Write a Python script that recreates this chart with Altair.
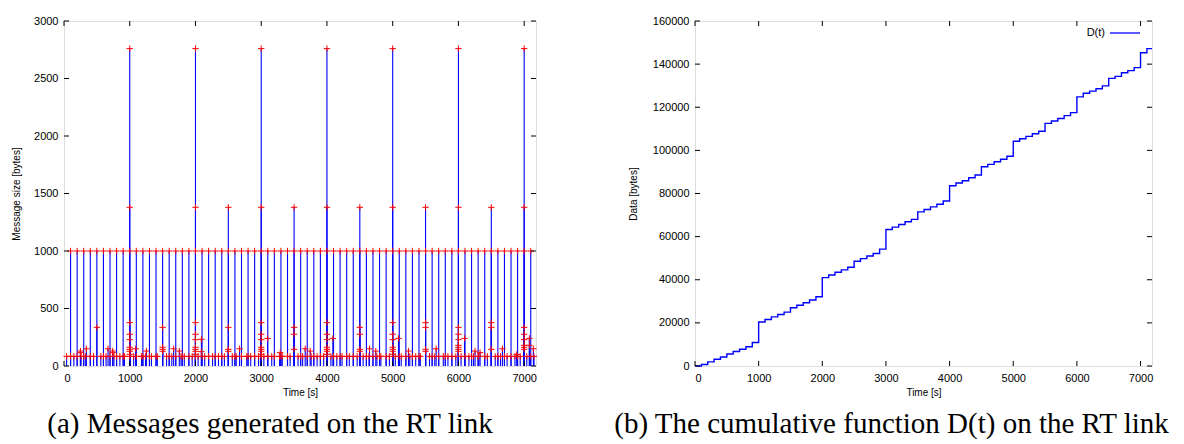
import altair as alt
import pandas as pd

# ---------------- data: panel (a) messages ----------------
periodic_t = [100, 200, 300, 400, 500, 600, 700, 800, 900, 1000,
              1100, 1200, 1300, 1400, 1500, 1600, 1700, 1800, 1900, 2000,
              2100, 2200, 2300, 2400, 2500, 2600, 2700, 2800, 2900, 3000,
              3100, 3200, 3300, 3400, 3500, 3600, 3700, 3800, 3900, 4000,
              4100, 4200, 4300, 4400, 4500, 4600, 4700, 4800, 4900, 5000,
              5100, 5200, 5300, 5400, 5500, 5600, 5700, 5800, 5900, 6000,
              6100, 6200, 6300, 6400, 6500, 6600, 6700, 6800, 6900, 7000, 7100]
periodic_v = [1000, 1000, 1000, 1000, 1000, 1000, 1000, 1000, 1000, 1000,
              1000, 1000, 1000, 1000, 1000, 1000, 1000, 1000, 1000, 1000,
              1000, 1000, 1000, 1000, 1000, 1000, 1000, 1000, 1000, 1000,
              1000, 1000, 1000, 1000, 1000, 1000, 1000, 1000, 1000, 1000,
              1000, 1000, 1000, 1000, 1000, 1000, 1000, 1000, 1000, 1000,
              1000, 1000, 1000, 1000, 1000, 1000, 1000, 1000, 1000, 1000,
              1000, 1000, 1000, 1000, 1000, 1000, 1000, 1000, 1000, 1000, 1000]

peak_t = [1000, 2000, 3000, 4000, 5000, 6000, 7000]
peak_v = [2760, 2760, 2760, 2760, 2760, 2760, 2760]

half_t = [1000, 2000, 2500, 3000, 3500, 4000, 4500, 5000, 5500, 6000, 6500, 7000]
half_v = [1380, 1380, 1380, 1380, 1380, 1380, 1380, 1380, 1380, 1380, 1380, 1380]

cluster_t = [500,
             1000, 1000, 1000, 1000, 1000, 1000, 1000, 1000,
             1500, 1500, 1500, 1500,
             2000, 2000, 2000, 2000, 2000, 2000, 2000, 2000,
             2500, 2500, 2500,
             3000, 3000, 3000, 3000, 3000, 3000, 3000, 3000,
             3500, 3500, 3500,
             4000, 4000, 4000, 4000, 4000, 4000, 4000,
             4500, 4500, 4500, 4500,
             5000, 5000, 5000, 5000, 5000, 5000, 5000,
             5500, 5500, 5500, 5500,
             6000, 6000, 6000, 6000, 6000, 6000, 6000,
             6500, 6500, 6500,
             7000, 7000, 7000, 7000, 7000, 7000]
cluster_v = [336,
             377, 276, 229, 163, 145, 128, 102, 84,
             336, 163, 145, 128,
             377, 276, 229, 163, 145, 128, 102, 84,
             336, 145, 128,
             377, 276, 229, 163, 145, 128, 102, 84,
             336, 276, 145,
             377, 276, 229, 163, 145, 128, 102,
             336, 276, 145, 128,
             377, 276, 229, 163, 145, 128, 102,
             377, 336, 145, 128,
             336, 276, 229, 180, 163, 145, 128,
             377, 336, 145,
             336, 276, 229, 180, 163, 145]

small_t = [40, 100, 150, 200, 250, 250, 260, 300, 330, 340, 400, 450, 560, 600, 640, 670, 700,
           741, 741, 760, 800, 850, 900, 920, 1060, 1090, 1100, 1180, 1200, 1240, 1253, 1300,
           1330, 1400, 1420, 1560, 1600, 1640, 1668, 1700, 1754, 1780, 1800, 1830, 1900, 1950,
           2040, 2090, 2090, 2100, 2140, 2200, 2260, 2300, 2350, 2400, 2440, 2560, 2600, 2620,
           2671, 2700, 2780, 2800, 2840, 2900, 2960, 3040, 3097, 3100, 3160, 3200, 3280, 3289,
           3300, 3320, 3400, 3440, 3560, 3600, 3630, 3669, 3700, 3745, 3760, 3800, 3850, 3900,
           3950, 4060, 4090, 4100, 4150, 4200, 4230, 4300, 4340, 4400, 4460, 4550, 4600, 4640,
           4647, 4700, 4743, 4760, 4800, 4820, 4900, 4950, 5040, 5088, 5100, 5130, 5200, 5240,
           5260, 5300, 5350, 5400, 5420, 5560, 5600, 5640, 5661, 5700, 5770, 5800, 5840, 5900,
           5960, 6040, 6093, 6100, 6160, 6200, 6230, 6253, 6300, 6310, 6329, 6400, 6440, 6560,
           6600, 6640, 6669, 6700, 6740, 6800, 6860, 6886, 6900, 6940, 7040, 7079, 7079, 7100,
           7140, 7150]
small_v = [84, 84, 84, 84, 116, 130, 84, 84, 84, 150, 84, 84, 84, 84, 84, 150, 84,
           130, 116, 84, 84, 84, 84, 84, 84, 150, 84, 84, 84, 84, 130, 84,
           84, 84, 84, 84, 84, 84, 150, 84, 130, 84, 84, 84, 84, 84,
           84, 232, 125, 84, 84, 84, 84, 84, 84, 84, 84, 84, 84, 84,
           150, 84, 84, 84, 84, 84, 84, 84, 240, 84, 84, 84, 84, 116,
           84, 84, 84, 84, 84, 84, 84, 150, 84, 130, 84, 84, 84, 84,
           84, 84, 240, 84, 84, 84, 84, 84, 84, 84, 84, 84, 84, 84,
           150, 84, 130, 84, 84, 84, 84, 84, 84, 240, 84, 84, 84, 130,
           84, 84, 84, 84, 84, 84, 84, 84, 150, 84, 84, 84, 84, 84,
           84, 84, 240, 84, 84, 84, 84, 130, 84, 84, 116, 84, 84, 84,
           84, 84, 150, 84, 84, 84, 84, 100, 84, 84, 84, 240, 180, 84,
           150, 84]

# ---------------- data: panel (b) cumulative D(t) ----------------
d_t = [0, 100, 200, 300, 400, 500, 600, 700, 800, 900, 1000,
       1100, 1200, 1300, 1400, 1500, 1600, 1700, 1800, 1900, 2000,
       2100, 2200, 2300, 2400, 2500, 2600, 2700, 2800, 2900, 3000,
       3100, 3200, 3300, 3400, 3500, 3600, 3700, 3800, 3900, 4000,
       4100, 4200, 4300, 4400, 4500, 4600, 4700, 4800, 4900, 5000,
       5100, 5200, 5300, 5400, 5500, 5600, 5700, 5800, 5900, 6000,
       6100, 6200, 6300, 6400, 6500, 6600, 6700, 6800, 6900, 7000, 7100, 7180]
d_v = [0, 700, 1900, 3100, 4200, 5600, 6700, 7800, 8900, 10900, 20400,
       21600, 22800, 23900, 25000, 27000, 28200, 29300, 30600, 32100, 41000,
       42200, 43500, 44600, 45800, 48600, 49800, 51000, 52200, 54200, 63300,
       64400, 65600, 66900, 68000, 71500, 72600, 73800, 75000, 76500, 83600,
       84900, 85900, 87300, 88600, 92400, 93500, 94700, 95900, 97300, 104200,
       105400, 106500, 107700, 108900, 112500, 113600, 114800, 116100, 117500, 124800,
       126500, 127500, 128600, 129900, 133400, 134300, 136000, 137000, 138400, 145300, 147200, 147200]

x_ticks = [0, 1000, 2000, 3000, 4000, 5000, 6000, 7000]
y1_ticks = [0, 500, 1000, 1500, 2000, 2500, 3000]
y2_ticks = [0, 20000, 40000, 60000, 80000, 100000, 120000, 140000, 160000]

caption_a = "(a) Messages generated on the RT link"
caption_b = "(b) The cumulative function D(t) on the RT link"
legend_label = "D(t)"

# ---------------- build ----------------
W1, W2, H = 472, 457, 345
XMAX = 7180
BLUE = "#0000ff"
RED = "#ff0000"
SANS = "Liberation Sans"
SERIF = "Liberation Serif"
TL = 5

msgs = pd.DataFrame({
    "t": periodic_t + peak_t + half_t + cluster_t + small_t,
    "v": periodic_v + peak_v + half_v + cluster_v + small_v,
})
dfD = pd.DataFrame({"t": d_t, "v": d_v})
xt = pd.DataFrame({"t": x_ticks})
y1t = pd.DataFrame({"v": y1_ticks})
y2t = pd.DataFrame({"v": y2_ticks})

xscale = alt.Scale(domain=[0, XMAX], nice=False, zero=False)
y1scale = alt.Scale(domain=[0, 3000], nice=False)
y2scale = alt.Scale(domain=[0, 160000], nice=False)


def xaxis():
    return alt.Axis(values=x_ticks, ticks=False, grid=False, domain=False, format="d",
                    labelFont=SANS, labelFontSize=11, labelColor="black",
                    labelPadding=6, title="Time [s]", titleFont=SANS,
                    titleFontSize=10, titleFontWeight="normal", titleColor="black",
                    titlePadding=4)


def yaxis(vals, title, tpad):
    return alt.Axis(values=vals, ticks=False, grid=False, domain=False, format="d",
                    labelFont=SANS, labelFontSize=11, labelColor="black",
                    labelPadding=6, title=title, titleFont=SANS, titleFontSize=10,
                    titleFontWeight="normal", titleColor="black", titlePadding=tpad)


def inner_ticks(yscale, yticks_df, W):
    tb = alt.Chart(xt).mark_rule(color="black", strokeWidth=1).encode(
        x=alt.X("t:Q", scale=xscale), y=alt.value(H), y2=alt.value(H - TL))
    tt = alt.Chart(xt).mark_rule(color="black", strokeWidth=1).encode(
        x=alt.X("t:Q", scale=xscale), y=alt.value(0), y2=alt.value(TL))
    tl = alt.Chart(yticks_df).mark_rule(color="black", strokeWidth=1).encode(
        y=alt.Y("v:Q", scale=yscale), x=alt.value(0), x2=alt.value(TL))
    tr = alt.Chart(yticks_df).mark_rule(color="black", strokeWidth=1).encode(
        y=alt.Y("v:Q", scale=yscale), x=alt.value(W), x2=alt.value(W - TL))
    return [tb, tt, tl, tr]


stems = alt.Chart(msgs).mark_rule(color=BLUE, strokeWidth=1.1).encode(
    x=alt.X("t:Q", scale=xscale, axis=xaxis()),
    y=alt.Y("v:Q", scale=y1scale, axis=yaxis(y1_ticks, "Message size [bytes]", 12)),
    y2=alt.datum(0),
)
crosses = alt.Chart(msgs).mark_point(
    shape="M-1,0L1,0M0,-1L0,1", size=40, filled=False, color=RED, strokeWidth=1, opacity=1
).encode(x=alt.X("t:Q", scale=xscale), y=alt.Y("v:Q", scale=y1scale))

left = alt.layer(stems, crosses, *inner_ticks(y1scale, y1t, W1)).properties(
    width=W1, height=H,
    title=alt.TitleParams(caption_a, orient="bottom", anchor="middle", dx=-30,
                          font=SERIF, fontSize=29, fontWeight="normal", color="black",
                          offset=13),
)

step = alt.Chart(dfD).mark_line(color=BLUE, strokeWidth=1.4, interpolate="step-after").encode(
    x=alt.X("t:Q", scale=xscale, axis=xaxis()),
    y=alt.Y("v:Q", scale=y2scale, axis=yaxis(y2_ticks, "Data [bytes]", 14)),
)
leg_df = pd.DataFrame({"label": [legend_label]})
leg_text = alt.Chart(leg_df).mark_text(align="right", baseline="middle", font=SANS,
                                       fontSize=11, color="black").encode(
    text="label:N", x=alt.value(W2 - 47), y=alt.value(12))
leg_line = alt.Chart(leg_df).mark_rule(color=BLUE, strokeWidth=1.3).encode(
    x=alt.value(W2 - 42), x2=alt.value(W2 - 12), y=alt.value(12))

right = alt.layer(step, leg_text, leg_line, *inner_ticks(y2scale, y2t, W2)).properties(
    width=W2, height=H,
    title=alt.TitleParams(caption_b, orient="bottom", anchor="middle", dx=-32,
                          font=SERIF, fontSize=29, fontWeight="normal", color="black",
                          offset=13),
)

chart = alt.hconcat(left, right, spacing=73).properties(
    padding={"left": 3, "top": 6, "right": 0, "bottom": 0}
).configure_view(stroke="black", strokeWidth=1.2).configure(background="white")

chart.save("out.html", embed_options={"renderer": "svg", "actions": False})
